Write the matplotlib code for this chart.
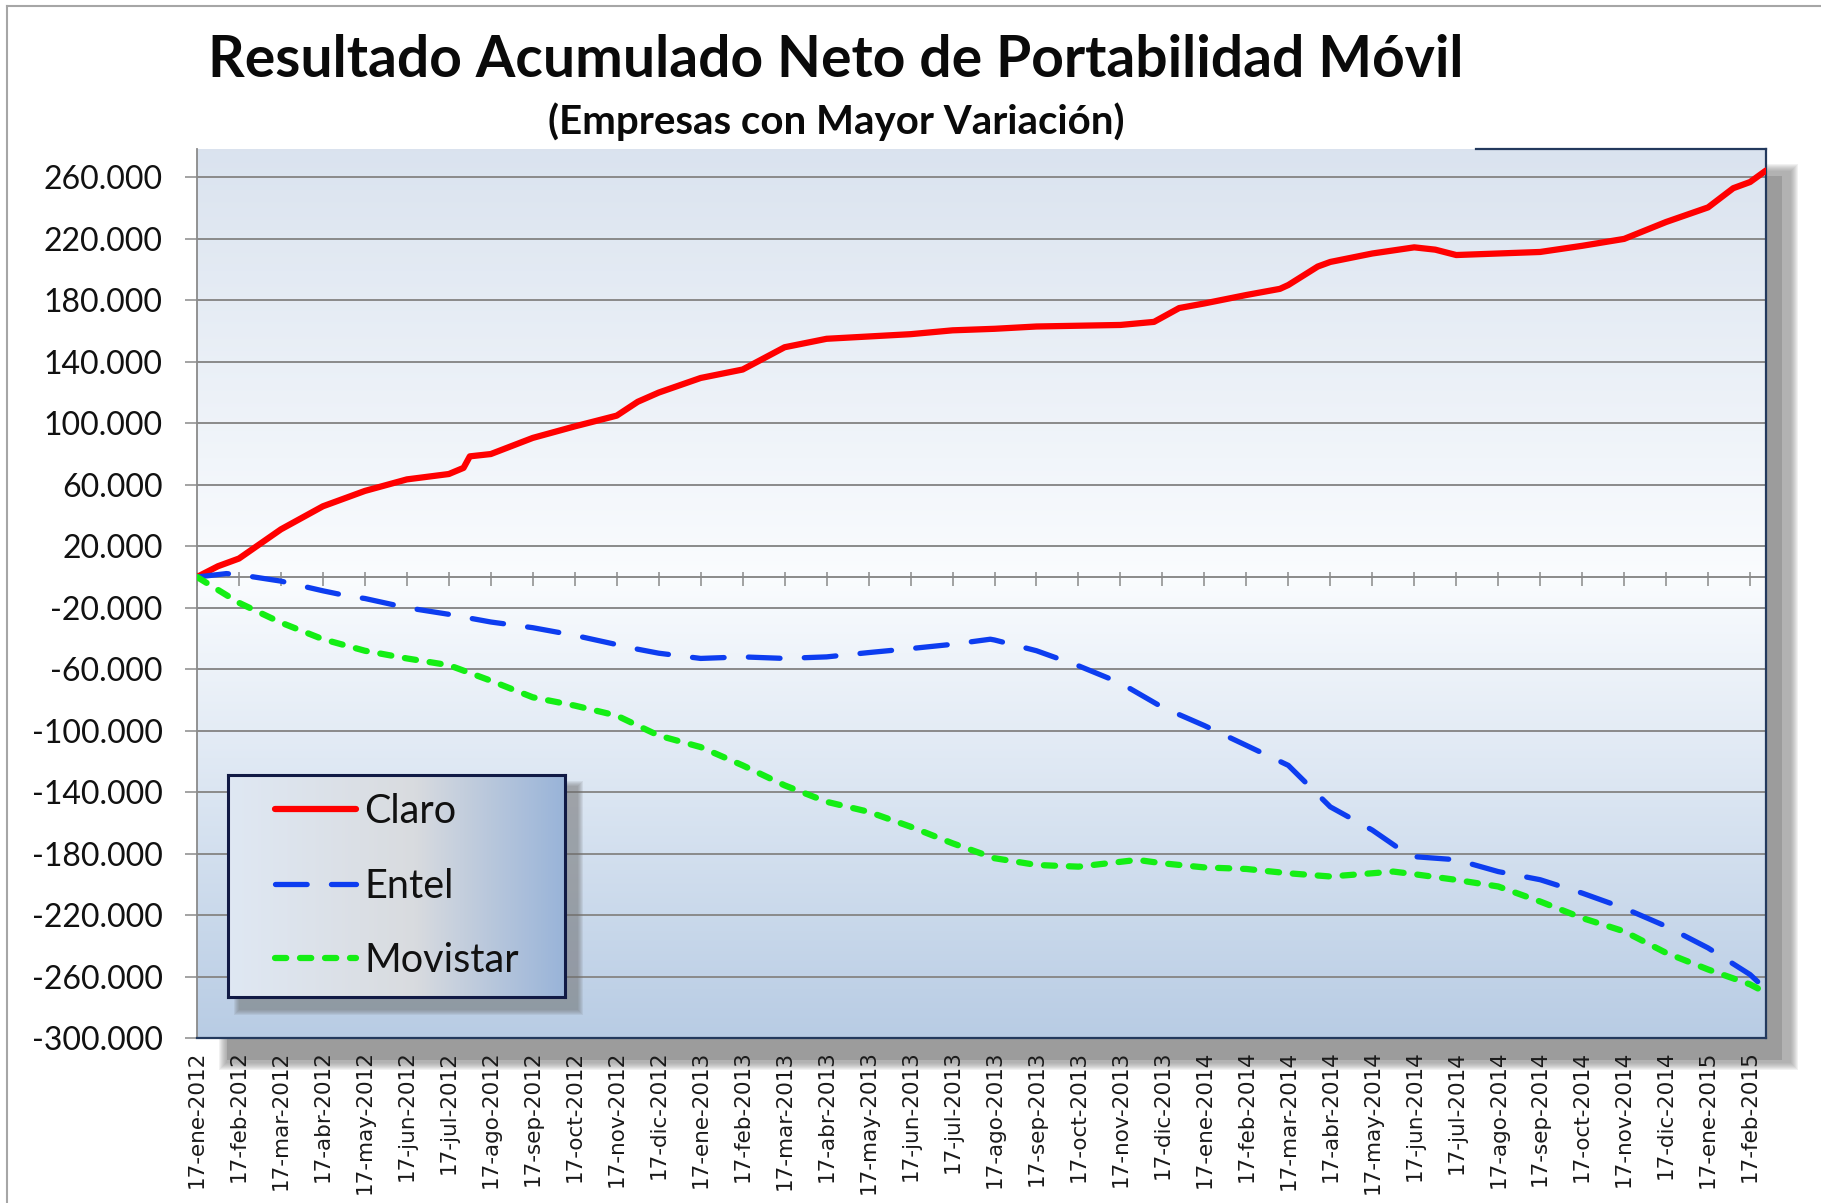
import numpy as np
import matplotlib
matplotlib.use("Agg")
import matplotlib.pyplot as plt
from matplotlib.patches import Rectangle
from matplotlib.lines import Line2D
from matplotlib.ticker import FuncFormatter
from matplotlib.font_manager import FontProperties

# ---------------- data ----------------
month_labels = [
    "17-ene-2012", "17-feb-2012", "17-mar-2012", "17-abr-2012", "17-may-2012", "17-jun-2012",
    "17-jul-2012", "17-ago-2012", "17-sep-2012", "17-oct-2012", "17-nov-2012", "17-dic-2012",
    "17-ene-2013", "17-feb-2013", "17-mar-2013", "17-abr-2013", "17-may-2013", "17-jun-2013",
    "17-jul-2013", "17-ago-2013", "17-sep-2013", "17-oct-2013", "17-nov-2013", "17-dic-2013",
    "17-ene-2014", "17-feb-2014", "17-mar-2014", "17-abr-2014", "17-may-2014", "17-jun-2014",
    "17-jul-2014", "17-ago-2014", "17-sep-2014", "17-oct-2014", "17-nov-2014", "17-dic-2014",
    "17-ene-2015", "17-feb-2015",
]

# x = months elapsed since 17-ene-2012
claro_x = [0, 0.5, 1, 2, 3, 4, 5, 6, 6.35, 6.5, 7, 8, 9, 10, 10.5, 11, 12, 13, 14, 15, 16, 17,
           18, 19, 20, 21, 22, 22.8, 23.4, 24, 25, 25.8, 26, 26.7, 27, 28, 29, 29.5, 30, 31,
           32, 33, 34, 35, 36, 36.6, 37, 37.38]
claro_y = [0, 7000, 12000, 31000, 46000, 56000, 63500, 67000, 71000, 78500, 80000, 90500,
           98000, 105000, 114000, 120000, 129500, 135000, 149500, 155000, 156500, 158000,
           160500, 161500, 163000, 163500, 164000, 166000, 175000, 178000, 183500, 187500,
           190000, 202000, 205000, 210500, 214500, 213000, 209500, 210500, 211500, 215500,
           220000, 231000, 240500, 253000, 257000, 264500]

entel_x = [0, 0.7, 1, 2, 3, 3.6, 4, 5, 6, 7, 8, 9, 10, 10.5, 11, 12, 13, 14, 15, 16, 17, 18,
           18.9, 19, 20, 21, 22, 23, 24, 25, 26, 27, 28, 28.6, 29, 30, 31, 32, 33, 34, 35,
           36, 37, 37.38]
entel_y = [0, 2200, 1500, -2700, -9000, -12400, -14000, -20000, -24300, -29300, -33000,
           -38000, -44000, -47000, -49600, -53000, -52000, -53000, -52000, -49200, -46600,
           -43800, -40500, -41000, -48000, -57800, -69000, -84800, -96700, -109600, -122600,
           -149600, -164700, -176000, -182000, -184000, -191700, -197000, -205700, -215500,
           -227300, -241400, -258700, -268400]

movistar_x = [0, 1, 2, 3, 4, 5, 6, 7, 8, 9, 10, 10.5, 11, 12, 13, 14, 15, 16, 17, 18, 19, 20,
              21, 22.4, 23, 24, 25, 26, 27, 28, 28.5, 29, 30, 31, 32, 33, 34, 35, 36, 37, 37.38]
movistar_y = [0, -16800, -29700, -40500, -48000, -53000, -57400, -67500, -78300, -83700,
              -90200, -96700, -103200, -110700, -122600, -135600, -146300, -152800, -162500,
              -173300, -183000, -187400, -188500, -184100, -186300, -189000, -190000, -192800,
              -194900, -192800, -191700, -193400, -197100, -201400, -211200, -221900, -230600,
              -244600, -255400, -265100, -270500]

y_ticks = [-300000, -260000, -220000, -180000, -140000, -100000, -60000, -20000,
           20000, 60000, 100000, 140000, 180000, 220000, 260000]

series_names = ["Claro", "Entel", "Movistar"]
title = "Resultado Acumulado Neto de Portabilidad Móvil"
subtitle = "(Empresas con Mayor Variación)"

# ---------------- layout ----------------
W, H = 1821, 1203
fig = plt.figure(figsize=(W / 100, H / 100), dpi=100)
fig.patch.set_facecolor("white")


def fx(px):
    return px / W


def fy(py):
    return 1 - py / H


L, R, T, B = 197, 1766, 149, 1038
ax_rect = [fx(L), fy(B), fx(R - L), (B - T) / H]

# drop shadow of plot area (soft)
for i in range(8):
    g = 8 - i
    fig.patches.append(Rectangle((fx(227 - g), fy(1062 + g)), fx(1790 - 227 + 2 * g), (1062 - 172 + 2 * g) / H,
                                 transform=fig.transFigure, facecolor="#7f7f7f", edgecolor="none",
                                 alpha=0.10, zorder=-2))
fig.patches.append(Rectangle((fx(227), fy(1060)), fx(1782 - 227), (1060 - 176) / H,
                             transform=fig.transFigure, facecolor="#9a9a9a", edgecolor="none",
                             alpha=0.9, zorder=-1.9))

# gradient background axes
bg = fig.add_axes(ax_rect, zorder=-1)
ymin, ymax = -300000, 278500
zf = (0 - ymin) / (ymax - ymin)
n = 400
f = np.linspace(0, 1, n)
c_bot = np.array([0.722, 0.800, 0.894])
c_mid = np.array([0.980, 0.988, 0.997])
c_top = np.array([0.855, 0.890, 0.937])
cols = np.zeros((n, 3))
for i, v in enumerate(f):
    if v <= zf:
        t = v / zf
        cols[i] = c_bot + (c_mid - c_bot) * t
    else:
        t = (v - zf) / (1 - zf)
        cols[i] = c_mid + (c_top - c_mid) * t
bg.imshow(cols[:, None, :], extent=[0, 1, 0, 1], origin="lower", aspect="auto")
bg.set_xlim(0, 1)
bg.set_ylim(0, 1)
bg.axis("off")

# main axes
ax = fig.add_axes(ax_rect, zorder=0)
ax.set_facecolor("none")
ax.set_xlim(0, 37.38)
ax.set_ylim(ymin, ymax)

grid_c = "#8a8a8a"
navy = "#23395d"
ax.set_yticks(y_ticks)
ax.yaxis.set_major_formatter(FuncFormatter(lambda v, p: f"{int(round(v)):,}".replace(",", ".")))
ax.yaxis.grid(True, color=grid_c, lw=1.4, zorder=1)
ax.set_axisbelow(True)
ax.tick_params(axis="y", length=8.6, width=1.1, color=grid_c, pad=16, labelsize=23, labelcolor="#111111")
for lab in ax.get_yticklabels():
    lab.set_family("Lato")

ax.set_xticks(range(len(month_labels)))
ax.set_xticklabels(month_labels, rotation=90, fontsize=15.5, family="DejaVu Sans", color="#1a1a1a",
                   va="top", ha="center")
ax.tick_params(axis="x", length=0, pad=9)

ax.spines["top"].set_visible(False)
ax.spines["left"].set_color(grid_c)
ax.spines["left"].set_linewidth(1.3)
ax.spines["right"].set_color(navy)
ax.spines["right"].set_linewidth(1.6)
ax.spines["bottom"].set_color(navy)
ax.spines["bottom"].set_linewidth(1.6)
ax.plot([0.815, 1.0], [1, 1], transform=ax.transAxes, color=navy, lw=1.6, clip_on=False, zorder=5)

# zero axis line with crossing tick marks
ax.axhline(0, color=grid_c, lw=1.4, zorder=1.5)
ax.vlines(range(len(month_labels)), -6000, 3300, colors=grid_c, lw=1.1, zorder=1.5)

# series
l_claro, = ax.plot(claro_x, claro_y, color="#ff0000", lw=4.5, solid_capstyle="round",
                   solid_joinstyle="round", label=series_names[0], zorder=3)
l_entel, = ax.plot(entel_x, entel_y, color="#0d3df0", lw=3.8, dash_capstyle="round",
                   dash_joinstyle="round", label=series_names[1], zorder=3)
l_entel.set_dashes((6, 4.6))
l_mov, = ax.plot(movistar_x, movistar_y, color="#14ee14", lw=4.5, dash_capstyle="round",
                 dash_joinstyle="round", label=series_names[2], zorder=3)
l_mov.set_dashes((1.8, 2.2))

# legend shadow
LL, LR, LT, LB = 228, 565, 775, 997
for i in range(6):
    g = 6 - i
    fig.patches.append(Rectangle((fx(LL + 12 - g), fy(LB + 12 + g)), fx(LR - LL + 2 * g), (LB - LT + 2 * g) / H,
                                 transform=fig.transFigure, facecolor="#6f6f6f", edgecolor="none",
                                 alpha=0.12, zorder=1.5))

# legend box with horizontal gradient
lax = fig.add_axes([fx(LL), fy(LB), fx(LR - LL), (LB - LT) / H], zorder=2)
m = 300
gx = np.linspace(0, 1, m)
s0 = np.array([0.875, 0.910, 0.955])
s1 = np.array([0.850, 0.860, 0.875])
s2 = np.array([0.600, 0.705, 0.850])
lg = np.zeros((m, 3))
for i, v in enumerate(gx):
    if v <= 0.55:
        t = v / 0.55
        lg[i] = s0 + (s1 - s0) * t
    else:
        t = (v - 0.55) / 0.45
        lg[i] = s1 + (s2 - s1) * t
lax.imshow(lg[None, :, :], extent=[0, 1, 0, 1], aspect="auto")
lax.set_xlim(0, 1)
lax.set_ylim(0, 1)
lax.set_xticks([])
lax.set_yticks([])
for sp in lax.spines.values():
    sp.set_color("#111a45")
    sp.set_linewidth(2.2)
leg = lax.legend(handles=[l_claro, l_entel, l_mov], loc="center left", bbox_to_anchor=(0, 0.5),
                 frameon=False, prop=FontProperties(family="Lato", size=28.5),
                 handlelength=2.05, handletextpad=0.22, labelspacing=0.94, borderaxespad=0.78,
                 borderpad=0.4)
for t in leg.get_texts():
    t.set_color("#111111")

# titles
fig.text(fx(836), fy(77), title, ha="center", va="baseline", fontsize=41, fontweight="bold",
         family="Lato", color="#0a0a0a")
fig.text(fx(836), fy(134), subtitle, ha="center", va="baseline", fontsize=29, fontweight="bold",
         family="Lato", color="#0a0a0a")

# outer frame (left and top edges)
fig.add_artist(Line2D([fx(7), fx(7)], [0, fy(6)], color="#a6a6a6", lw=1.5))
fig.add_artist(Line2D([fx(7), 1], [fy(6), fy(6)], color="#a6a6a6", lw=1.5))

fig.savefig("out.png", dpi=100, facecolor="white")
